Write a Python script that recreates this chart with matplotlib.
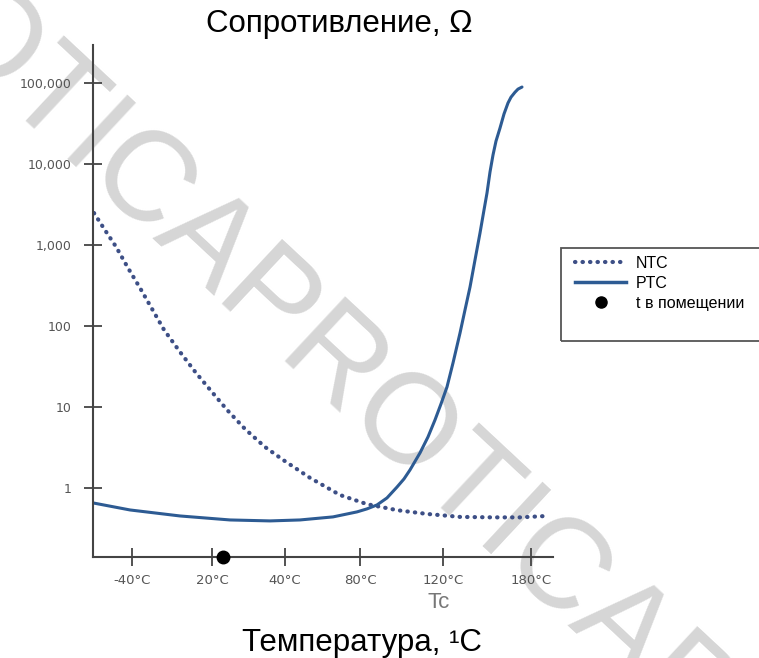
import matplotlib.pyplot as plt
from matplotlib.lines import Line2D
from matplotlib.patches import Rectangle
from matplotlib.ticker import NullLocator

plt.rcParams['font.family'] = ['Liberation Sans', 'DejaVu Sans']

# данные (x - положение по оси, R - сопротивление, Ом)
ntc_x = [0.1, 1.2, 2.3, 3.5, 4.7, 5.9, 7.1, 8.7, 10.3, 11.9, 13.4, 15.2, 17.2,
         19.0, 21.7, 24.7, 27.4, 30.4, 33.4, 36.7, 40.0, 42.7, 45.4]
ntc_r = [2470, 1520, 950, 520, 295, 163, 90, 48, 26.5, 15.4, 9.3, 5.4, 3.24,
         2.25, 1.35, 0.83, 0.64, 0.54, 0.485, 0.446, 0.44, 0.44, 0.458]

ptc_x = [0.0, 3.7, 8.7, 13.7, 17.7, 20.7, 24.0, 26.4, 27.4, 28.4, 29.4, 30.4,
         31.1, 31.7, 32.7, 33.5, 34.2, 34.8, 35.4, 36.0, 36.7, 37.2, 37.7,
         38.2, 38.7, 39.1, 39.4, 39.7, 40.0, 40.3, 40.7, 41.1, 41.5, 41.8,
         42.2, 42.5, 42.9]
ptc_r = [0.663, 0.543, 0.458, 0.409, 0.398, 0.409, 0.446, 0.514, 0.56, 0.626,
         0.764, 1.04, 1.31, 1.69, 2.74, 4.31, 6.98, 11.0, 17.8, 35.1, 82, 158,
         302, 652, 1400, 2690, 4360, 7900, 12800, 19000, 27500, 41000, 56000,
         66000, 76000, 83000, 88000]

room_x = 13.0

tick_pos = [3.9, 11.9, 19.2, 26.7, 35.0, 43.8]
tick_labels = ['-40°C', '20°C', '40°C', '80°C', '120°C', '180°C']
r_ticks = [1, 10, 100, 1000, 10000, 100000]
r_labels = ['1', '10', '100', '1,000', '10,000', '100,000']

W, H = 759, 658
fig = plt.figure(figsize=(W / 100, H / 100), dpi=100)

# водяной знак
fig.text(0.582, 0.281, 'PROTICAPROTICAPROTICA', fontsize=92, color='#d6d6d6',
         rotation=-43, rotation_mode='anchor', ha='center', va='center',
         zorder=-5)

ax = fig.add_axes([93 / W, 101 / H, 460 / W, 512 / H])
ax.patch.set_alpha(0)

ax.plot(ntc_x, ntc_r, color='#3d4f86', lw=3, linestyle=(0, (0.1, 1.7)),
        dash_capstyle='round')
ax.plot(ptc_x, ptc_r, color='#2d5b93', lw=2.2, solid_capstyle='round')

ax.set_yscale('log')
ax.set_xlim(0, 46)
ax.set_ylim(0.143, 2.9e5)
ax.plot([room_x], [0.143], 'o', color='black', ms=9, clip_on=False, zorder=5)

ax.set_yticks(r_ticks, r_labels)
ax.yaxis.set_minor_locator(NullLocator())
ax.set_xticks(tick_pos, tick_labels)
ax.tick_params(direction='inout', length=13, width=1.3, color='#444',
               labelcolor='#555')
ax.tick_params(axis='y', pad=9, labelsize=9)
ax.tick_params(axis='x', pad=6, labelsize=9.5)
for lab in ax.get_xticklabels() + ax.get_yticklabels():
    lab.set_fontfamily('DejaVu Sans')

for s in ['top', 'right']:
    ax.spines[s].set_visible(False)
for s in ['left', 'bottom']:
    ax.spines[s].set_color('#444')
    ax.spines[s].set_linewidth(1.5)

fig.text(439 / W, 1 - 603 / H, 'Tc', fontsize=16, color='#777',
         ha='center', va='center')
fig.text(339 / W, 1 - 24 / H, 'Сопротивление, Ω', fontsize=22.5,
         ha='center', va='center')
fig.text(362 / W, 1 - 643 / H, 'Температура, ¹C', fontsize=22.5,
         ha='center', va='center')

# легенда
fig.add_artist(Rectangle((561 / W, 1 - 341 / H), 0.4, 93 / H,
                         transform=fig.transFigure, fill=False,
                         ec='#555', lw=1.3))
handles = [
    Line2D([], [], color='#3d4f86', lw=3, linestyle=(0, (0.1, 1.7)),
           dash_capstyle='round'),
    Line2D([], [], color='#2d5b93', lw=2.5),
    Line2D([], [], color='black', marker='o', ms=8, lw=0),
]
ax.legend(handles, ['NTC', 'PTC', 't в помещении'], loc='upper left',
          bbox_to_anchor=(575 / W, 1 - 256 / H), bbox_transform=fig.transFigure,
          frameon=False, fontsize=11.5, handlelength=3.2, handletextpad=0.6,
          labelspacing=0.3, borderpad=0, borderaxespad=0)

fig.savefig('out.png', dpi=100)
